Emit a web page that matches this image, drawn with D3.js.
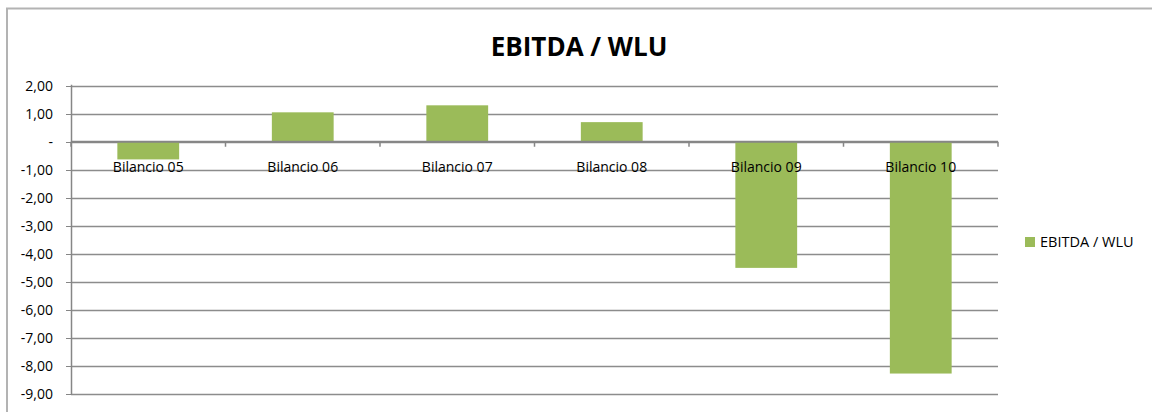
<!DOCTYPE html>
<html>
<head>
<meta charset="utf-8">
<script src="https://cdn.jsdelivr.net/npm/d3@7"></script>
<style>
  body { margin: 0; background: #fff; }
  svg text { font-family: "Open Sans", "Noto Sans", sans-serif; }
</style>
</head>
<body>
<div id="chart-area"></div>
<script>
// data
var categories = ["Bilancio 05", "Bilancio 06", "Bilancio 07", "Bilancio 08", "Bilancio 09", "Bilancio 10"];
var values = [-0.63, 1.05, 1.30, 0.70, -4.50, -8.27];
var yTicks = [2, 1, 0, -1, -2, -3, -4, -5, -6, -7, -8, -9];
var seriesName = "EBITDA / WLU";

var width = 1152;
var height = 412;

var svg = d3.select("#chart-area").append("svg")
  .attr("width", width)
  .attr("height", height);

// outer frame (left + top only visible)
svg.append("path")
  .attr("d", "M7,412 V8.5 H1152")
  .attr("fill", "none")
  .attr("stroke", "#b3b3b3")
  .attr("stroke-width", 2);

var x = d3.scaleBand()
  .domain(categories)
  .range([71, 998])
  .paddingInner(0.6)
  .paddingOuter(0.3);

var band = d3.scaleBand().domain(categories).range([71, 998]);

var y = d3.scaleLinear()
  .domain([-9, 2])
  .range([394, 85.7]);

// gridlines
svg.append("g")
  .selectAll("line")
  .data(yTicks)
  .enter().append("line")
  .attr("x1", 71)
  .attr("x2", 998)
  .attr("y1", function(d){ return Math.round(y(d)) + 0.5; })
  .attr("y2", function(d){ return Math.round(y(d)) + 0.5; })
  .attr("stroke", "#8c8c8c")
  .attr("stroke-width", 1.3);

// bars
svg.append("g")
  .selectAll("rect")
  .data(values)
  .enter().append("rect")
  .attr("x", function(d, i){ return x(categories[i]); })
  .attr("width", x.bandwidth())
  .attr("y", function(d){ return y(Math.max(0, d)); })
  .attr("height", function(d){ return Math.abs(y(d) - y(0)); })
  .attr("fill", "#9bbb59");

// y axis line
svg.append("line")
  .attr("x1", 71.5).attr("x2", 71.5)
  .attr("y1", y(2) - 1).attr("y2", y(-9) + 1)
  .attr("stroke", "#868686")
  .attr("stroke-width", 1.5);

// y tick marks
svg.append("g")
  .selectAll("line")
  .data(yTicks)
  .enter().append("line")
  .attr("x1", 66).attr("x2", 71)
  .attr("y1", function(d){ return Math.round(y(d)) + 0.5; })
  .attr("y2", function(d){ return Math.round(y(d)) + 0.5; })
  .attr("stroke", "#868686");

// y labels
svg.append("g")
  .selectAll("text")
  .data(yTicks)
  .enter().append("text")
  .attr("x", 53)
  .attr("y", function(d){ return y(d); })
  .attr("dy", "0.35em")
  .attr("text-anchor", "end")
  .attr("font-size", 14)
  .attr("fill", "#000")
  .text(function(d){
    if (d === 0) return "-";
    return d3.format(".2f")(d).replace(".", ",").replace("−", "-");
  });

// zero axis line
svg.append("line")
  .attr("x1", 71).attr("x2", 998)
  .attr("y1", y(0)).attr("y2", y(0))
  .attr("stroke", "#868686")
  .attr("stroke-width", 2);

// category tick marks
svg.append("g")
  .selectAll("line")
  .data(categories.concat(["end"]))
  .enter().append("line")
  .attr("x1", function(d, i){ return 71 + i * band.bandwidth(); })
  .attr("x2", function(d, i){ return 71 + i * band.bandwidth(); })
  .attr("y1", y(0))
  .attr("y2", y(0) + 5)
  .attr("stroke", "#868686")
  .attr("stroke-width", 1.5);

// category labels
svg.append("g")
  .selectAll("text")
  .data(categories)
  .enter().append("text")
  .attr("x", function(d){ return band(d) + band.bandwidth() / 2; })
  .attr("y", y(0) + 30)
  .attr("text-anchor", "middle")
  .attr("font-size", 14)
  .attr("fill", "#000")
  .text(function(d){ return d; });

// title
svg.append("text")
  .attr("x", 579)
  .attr("y", 56)
  .attr("text-anchor", "middle")
  .attr("font-size", 26)
  .attr("font-weight", "bold")
  .attr("fill", "#000")
  .text(seriesName);

// legend
var legend = svg.append("g").attr("class", "legend");
legend.append("rect")
  .attr("x", 1025).attr("y", 237)
  .attr("width", 10).attr("height", 10)
  .attr("fill", "#9bbb59");
legend.append("text")
  .attr("x", 1040).attr("y", 242)
  .attr("dy", "0.35em")
  .attr("font-size", 14.5)
  .attr("fill", "#000")
  .text(seriesName);
</script>
</body>
</html>
